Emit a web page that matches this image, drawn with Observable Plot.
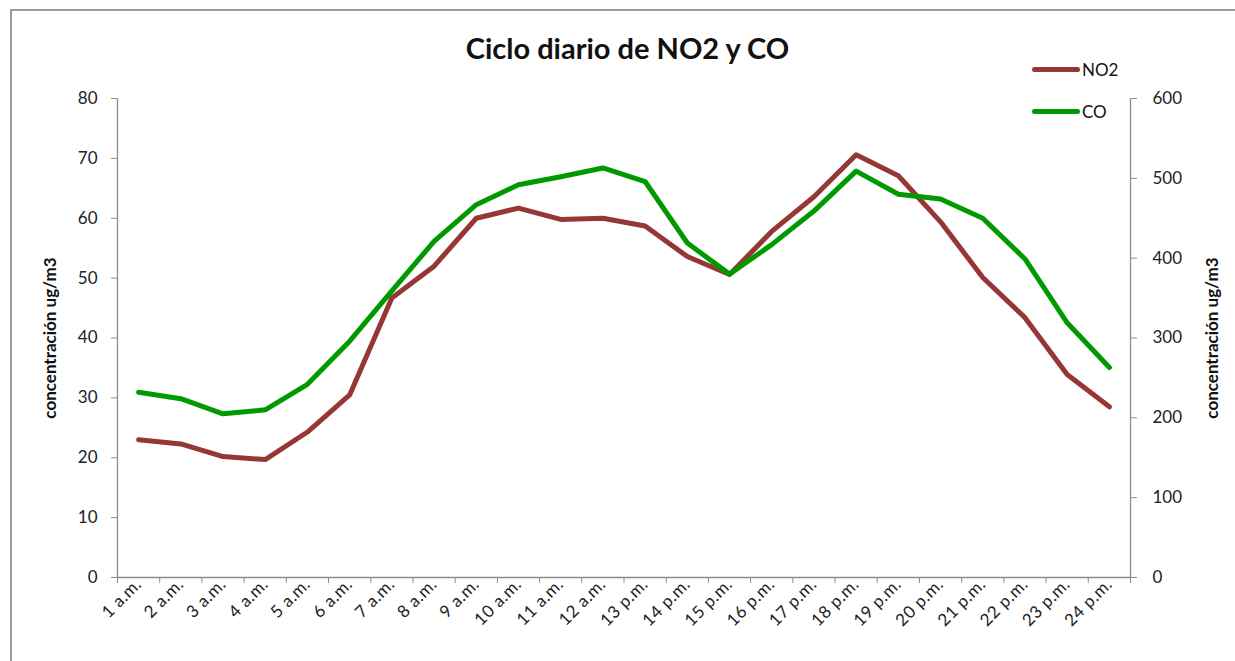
<!DOCTYPE html>
<html>
<head>
<meta charset="utf-8">
<script src="https://cdn.jsdelivr.net/npm/d3@7"></script>
<script src="https://cdn.jsdelivr.net/npm/@observablehq/plot@0.6"></script>
<style>
  html, body { margin: 0; padding: 0; background: #fff; }
  body { width: 1235px; height: 661px; position: relative; overflow: hidden; font-family: Lato, "Liberation Sans", sans-serif; }
  #frame { position: absolute; left: 10px; top: 9px; width: 1300px; height: 700px; border-top: 2px solid #9a9a9a; border-left: 2px solid #9a9a9a; box-sizing: border-box; }
  #title { position: absolute; left: 0; width: 1255px; top: 30px; text-align: center; font-size: 29px; font-weight: bold; color: #111; }
  .ylab { position: absolute; font-size: 17px; font-weight: bold; color: #111; white-space: nowrap; transform: translate(-50%, -50%) rotate(-90deg); }
  .leg { position: absolute; display: flex; align-items: center; font-size: 17px; color: #111; }
  .leg span.sw { display: inline-block; width: 48px; height: 5px; border-radius: 3px; margin-right: 2px; }
  #chart { position: absolute; left: 0; top: 0; }
  .xlab text { font-size: 17px; letter-spacing: 0.5px; }
</style>
</head>
<body>
<div id="frame"></div>
<div id="chart"></div>
<div id="title">Ciclo diario de NO2 y CO</div>
<div class="ylab" style="left:49px; top:338px;">concentración ug/m3</div>
<div class="ylab" style="left:1211px; top:338px;">concentración ug/m3</div>
<div id="legend"></div>
<script>
const categories = ["1 a.m.","2 a.m.","3 a.m.","4 a.m.","5 a.m.","6 a.m.","7 a.m.","8 a.m.","9 a.m.","10 a.m.","11 a.m.","12 a.m.",
  "13 p.m.","14 p.m.","15 p.m.","16 p.m.","17 p.m.","18 p.m.","19 p.m.","20 p.m.","21 p.m.","22 p.m.","23 p.m.","24 p.m."];
const no2 = [23.0, 22.3, 20.2, 19.7, 24.3, 30.5, 46.7, 52.0, 60.0, 61.7, 59.8, 60.0,
  58.7, 53.6, 50.6, 57.8, 63.6, 70.6, 67.1, 59.4, 50.1, 43.4, 33.9, 28.5];
const co = [232, 224, 205, 210, 242, 296, 359, 421, 467, 492, 502, 513,
  496, 419, 380, 417, 459, 509, 480, 474, 450, 399, 319, 263];
const leftTicks = [0, 10, 20, 30, 40, 50, 60, 70, 80];
const rightTicks = [0, 100, 200, 300, 400, 500, 600];
const seriesNames = ["NO2", "CO"];
const seriesColors = ["#953735", "#009A00"];

const leftMax = 80, rightMax = 600;
const k = leftMax / rightMax;
const rows = [];
categories.forEach((c, i) => {
  rows.push({h: i + 1, v: no2[i], s: "NO2"});
  rows.push({h: i + 1, v: co[i] * k, s: "CO"});
});
const boundaries = d3.range(0, categories.length + 1).map(i => i + 0.5);

const plot = Plot.plot({
  width: 1235,
  height: 661,
  marginLeft: 117,
  marginRight: 105,
  marginTop: 98,
  marginBottom: 84,
  style: {fontFamily: "Lato, 'Liberation Sans', sans-serif", background: "transparent", color: "#222"},
  x: {domain: [0.5, categories.length + 0.5]},
  y: {domain: [0, leftMax]},
  color: {domain: seriesNames, range: seriesColors},
  marks: [
    Plot.ruleY([0], {stroke: "#8c8c8c", strokeWidth: 1.3}),
    Plot.ruleX([0.5], {stroke: "#8c8c8c", strokeWidth: 1.3}),
    Plot.ruleX([categories.length + 0.5], {stroke: "#8c8c8c", strokeWidth: 1.3}),
    Plot.axisY({ticks: leftTicks, tickSize: 6, tickPadding: 14, stroke: "#8c8c8c", fontSize: 17, label: null, tickFormat: d => d}),
    Plot.axisY({anchor: "right", ticks: rightTicks.map(t => t * k), tickSize: 6, tickPadding: 16, stroke: "#8c8c8c", fontSize: 17, label: null,
      tickFormat: d => Math.round(d / k)}),
    Plot.axisX({ticks: boundaries, tickSize: 6, tickFormat: () => "", stroke: "#8c8c8c", label: null}),
    Plot.axisX({ticks: d3.range(1, categories.length + 1), tickSize: 0, tickPadding: 4, tickRotate: -45, fontSize: 17, label: null,
      className: "xlab", tickFormat: d => categories[d - 1]}),
    Plot.line(rows, {x: "h", y: "v", z: "s", stroke: "s", strokeWidth: 5, strokeLinejoin: "round", strokeLinecap: "round"})
  ]
});
document.getElementById("chart").appendChild(plot);

const legend = document.getElementById("legend");
seriesNames.forEach((n, i) => {
  const d = document.createElement("div");
  d.className = "leg";
  d.style.left = "1032px";
  d.style.top = (59 + i * 42) + "px";
  d.innerHTML = `<span class="sw" style="background:${seriesColors[i]}"></span>${n}`;
  legend.appendChild(d);
});
</script>
</body>
</html>
